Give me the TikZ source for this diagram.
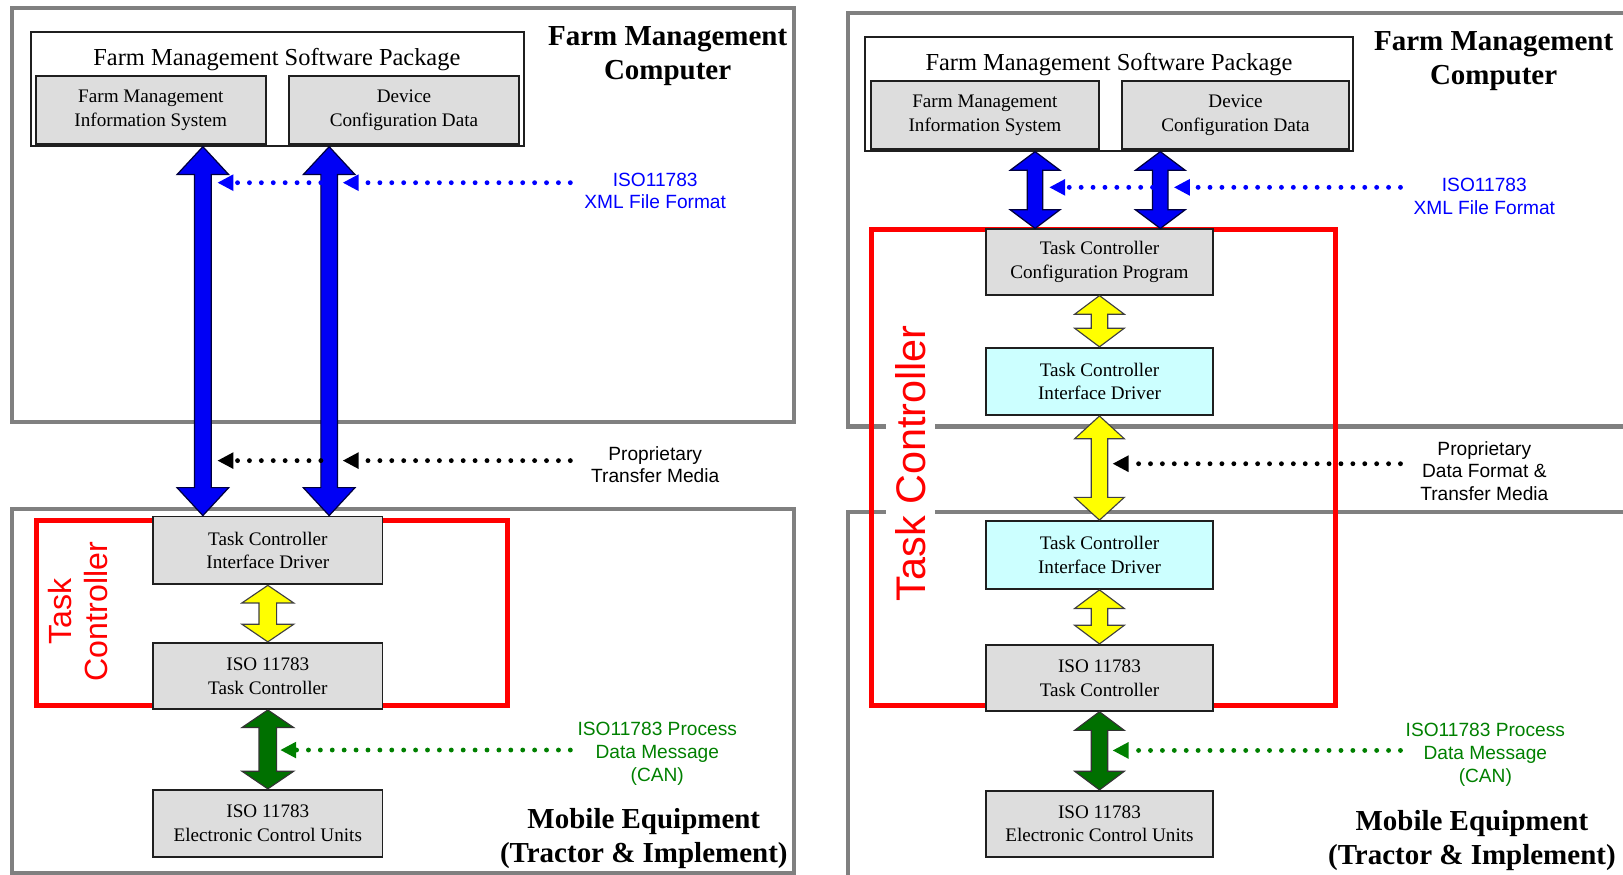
\documentclass[tikz,border=0pt]{standalone}
\usepackage{fontspec}
\setmainfont{Liberation Serif}
\setsansfont{Liberation Sans}
\usetikzlibrary{arrows.meta,calc}

\definecolor{framegray}{RGB}{128,128,128}
\definecolor{boxgray}{RGB}{221,221,221}
\definecolor{boxcyan}{RGB}{204,255,255}
\definecolor{tcred}{RGB}{255,0,0}
\definecolor{xmlblue}{RGB}{0,0,255}
\definecolor{arrowblue}{RGB}{0,0,245}
\definecolor{cangreen}{RGB}{0,128,0}
\definecolor{arrowgreen}{RGB}{0,112,0}
\definecolor{linkyellow}{RGB}{255,255,0}

% Wide vertical double-headed arrow between two points (top, bottom):
% #1 style, #2 top point, #3 bottom point, #4 half shaft width,
% #5 half head width, #6 head length
\newcommand\fatarrow[6]{%
  \draw[#1] let \p1=#2, \p2=#3 in
    (\x1,\y1) -- (\x1+#5,\y1-#6) -- (\x1+#4,\y1-#6) -- (\x1+#4,\y2+#6)
    -- (\x1+#5,\y2+#6) -- (\x1,\y2) -- (\x1-#5,\y2+#6) -- (\x1-#4,\y2+#6)
    -- (\x1-#4,\y1-#6) -- (\x1-#5,\y1-#6) -- cycle;}

\begin{document}
\begin{tikzpicture}[x=1pt,y=-1pt,
  zoneframe/.style={draw=framegray,line width=4pt},
  tcframe/.style={draw=tcred,line width=5pt},
  unitbox/.style={draw=black!88,line width=1.8pt,fill=boxgray,inner sep=0pt,
    align=center,font=\fontsize{18.5}{23}\selectfont},
  cyanbox/.style={unitbox,fill=boxcyan},
  pkgbox/.style={draw=black!88,line width=1.8pt,fill=white,inner sep=0pt},
  pkgtitle/.style={font=\fontsize{23.6}{28}\selectfont,inner sep=0pt},
  heading/.style={font=\bfseries\fontsize{28}{32.5}\selectfont,align=center,inner sep=0pt},
  note/.style={font=\sffamily\fontsize{18.5}{22}\selectfont,align=center,inner sep=0pt},
  tclabel/.style={font=\sffamily\fontsize{31}{34.6}\selectfont,text=tcred,align=center,inner sep=0pt},
  fatblue/.style={fill=arrowblue,draw=black!75!blue,line width=1.2pt},
  fatyellow/.style={fill=linkyellow,draw=black!75,line width=1.1pt},
  fatgreen/.style={fill=arrowgreen,draw=black!80,line width=1.1pt},
  dotlink/.style={line width=4.7pt,dash pattern=on 0pt off 11.5pt,line cap=round,
    -{Triangle[length=15.5pt,width=15pt]}},
]
\useasboundingbox (0,0) rectangle (1568,845);
\clip (0,0) rectangle (1568,845);

% ---------------- left: data exchanged on transfer media ----------------
\draw[zoneframe] (12,8) rectangle (767,408);
\draw[zoneframe] (12,492) rectangle (767,843);
\draw[tcframe] (35.6,502.5) rectangle (490.5,681.8);

\node[pkgbox,minimum width=476pt,minimum height=110.2pt] (lfmsp) at (268,85.7) {};
\node[pkgtitle] (lfmsptitle) at (267.5,57.5) {Farm Management Software Package};
\node[unitbox,minimum width=222.2pt,minimum height=65.6pt] (lfmis) at (145.7,106.2)
  {Farm Management\\Information System};
\node[unitbox,minimum width=222.5pt,minimum height=65.6pt] (ldcd) at (390.25,106.2)
  {Device\\Configuration Data};

\node[unitbox,minimum width=221.5pt,minimum height=65.6pt] (ltcid) at (258.75,531.8)
  {Task Controller\\Interface Driver};
\node[unitbox,minimum width=221.5pt,minimum height=64pt] (ltc) at (258.75,653)
  {ISO 11783\\Task Controller};
\node[unitbox,minimum width=221.5pt,minimum height=64.7pt] (lecu) at (258.75,795.35)
  {ISO 11783\\Electronic Control Units};

\coordinate (lbx1) at (196,0);
\coordinate (lbx2) at (318,0);
\fatarrow{fatblue}{(lbx1 |- lfmsp.south)}{(lbx1 |- ltcid.north)}{8pt}{25pt}{27pt}
\fatarrow{fatblue}{(lbx2 |- lfmsp.south)}{(lbx2 |- ltcid.north)}{8pt}{25pt}{27pt}
\fatarrow{fatyellow}{(ltcid.south)}{(ltc.north)}{8.5pt}{25pt}{17pt}
\fatarrow{fatgreen}{(ltc.south)}{(lecu.north)}{8.5pt}{25pt}{17pt}

\node[heading] (lfmc) at (645,54.5) {Farm Management\\Computer};
\node[heading] (lmob) at (622,810.3) {Mobile Equipment\\(Tractor \& Implement)};
\node[tclabel,rotate=90] (ltclabel) at (75.4,591) {Task\\Controller};

\node[note,text=xmlblue] (lxml) at (633,184.5) {ISO11783\\XML File Format};
\node[note] (lprop) at (633,449) {Proprietary\\Transfer Media};
\node[note,text=cangreen] (lcan) at (635,728.3) {ISO11783 Process\\Data Message\\(CAN)};

\coordinate (lxmlstart) at (551,176.5);
\coordinate (lxmltip2) at (331,176.5);
\coordinate (lxmlgap) at (310,176.5);
\coordinate (lxmltip1) at (210,176.5);
\draw[dotlink,draw=xmlblue] (lxmlstart) -- (lxmltip2);
\draw[dotlink,draw=xmlblue] (lxmlgap) -- (lxmltip1);

\coordinate (lpropstart) at (551,445);
\coordinate (lproptip2) at (331,445);
\coordinate (lpropgap) at (310,445);
\coordinate (lproptip1) at (210,445);
\draw[dotlink,draw=black] (lpropstart) -- (lproptip2);
\draw[dotlink,draw=black] (lpropgap) -- (lproptip1);

\coordinate (lcanstart) at (551,724.6);
\coordinate (lcantip) at (270.7,724.6);
\draw[dotlink,draw=cangreen] (lcanstart) -- (lcantip);

% ---------------- right: task controller split over both sides ----------------
\draw[zoneframe] (819,12.3) rectangle (1640,412);
\draw[zoneframe] (819,495) rectangle (1640,900);
\draw[tcframe] (841.6,222) rectangle (1290,681.8);

\node[pkgbox,minimum width=471.5pt,minimum height=110.2pt] (rfmsp) at (1071.75,90.5) {};
\node[pkgtitle] (rfmsptitle) at (1071.4,62) {Farm Management Software Package};
\node[unitbox,minimum width=219.8pt,minimum height=65.7pt] (rfmis) at (951.5,111.15)
  {Farm Management\\Information System};
\node[unitbox,minimum width=219.7pt,minimum height=65.7pt] (rdcd) at (1193.65,111.15)
  {Device\\Configuration Data};

\node[unitbox,minimum width=218.8pt,minimum height=63.1pt] (rtccp) at (1062.2,253.15)
  {Task Controller\\Configuration Program};
\node[cyanbox,minimum width=218.8pt,minimum height=65pt] (rtcida) at (1062.2,368.5)
  {Task Controller\\Interface Driver};
\node[cyanbox,minimum width=218.8pt,minimum height=65.6pt] (rtcidb) at (1062.2,536.2)
  {Task Controller\\Interface Driver};
\node[unitbox,minimum width=218.8pt,minimum height=63.7pt] (rtc) at (1062.2,654.85)
  {ISO 11783\\Task Controller};
\node[unitbox,minimum width=218.8pt,minimum height=63.7pt] (recu) at (1062.2,795.85)
  {ISO 11783\\Electronic Control Units};

\coordinate (rbx1) at (1000,0);
\coordinate (rbx2) at (1121,0);
\fatarrow{fatblue}{(rbx1 |- rfmsp.south)}{(rbx1 |- rtccp.north)}{7.5pt}{24pt}{18pt}
\fatarrow{fatblue}{(rbx2 |- rfmsp.south)}{(rbx2 |- rtccp.north)}{7.5pt}{24pt}{18pt}
\fatarrow{fatyellow}{(rtccp.south)}{(rtcida.north)}{8pt}{24pt}{18pt}
\fatarrow{fatyellow}{(rtcida.south)}{(rtcidb.north)}{8pt}{24pt}{22pt}
\fatarrow{fatyellow}{(rtcidb.south)}{(rtc.north)}{8pt}{24pt}{18pt}
\fatarrow{fatgreen}{(rtc.south)}{(recu.north)}{8pt}{24pt}{18pt}

\node[heading] (rfmc) at (1443,59.3) {Farm Management\\Computer};
\node[heading] (rmob) at (1422,812.3) {Mobile Equipment\\(Tractor \& Implement)};
\node[tclabel,font=\sffamily\fontsize{40}{44}\selectfont,rotate=90,fill=white,
  inner xsep=6pt,inner ysep=9pt] (rtclabel) at (880,447.5) {Task Controller};

\node[note,text=xmlblue] (rxml) at (1434,189.5) {ISO11783\\XML File Format};
\node[note] (rprop) at (1434,455) {Proprietary\\Data Format \&\\Transfer Media};
\node[note,text=cangreen] (rcan) at (1435,729) {ISO11783 Process\\Data Message\\(CAN)};

\coordinate (rxmlstart) at (1353,181);
\coordinate (rxmltip2) at (1134,181);
\coordinate (rxmlgap) at (1113.5,181);
\coordinate (rxmltip1) at (1013.6,181);
\draw[dotlink,draw=xmlblue] (rxmlstart) -- (rxmltip2);
\draw[dotlink,draw=xmlblue] (rxmlgap) -- (rxmltip1);

\coordinate (rpropstart) at (1353,448);
\coordinate (rproptip) at (1074.8,448);
\draw[dotlink,draw=black] (rpropstart) -- (rproptip);

\coordinate (rcanstart) at (1353,725);
\coordinate (rcantip) at (1074.8,725);
\draw[dotlink,draw=cangreen] (rcanstart) -- (rcantip);
\end{tikzpicture}
\end{document}
